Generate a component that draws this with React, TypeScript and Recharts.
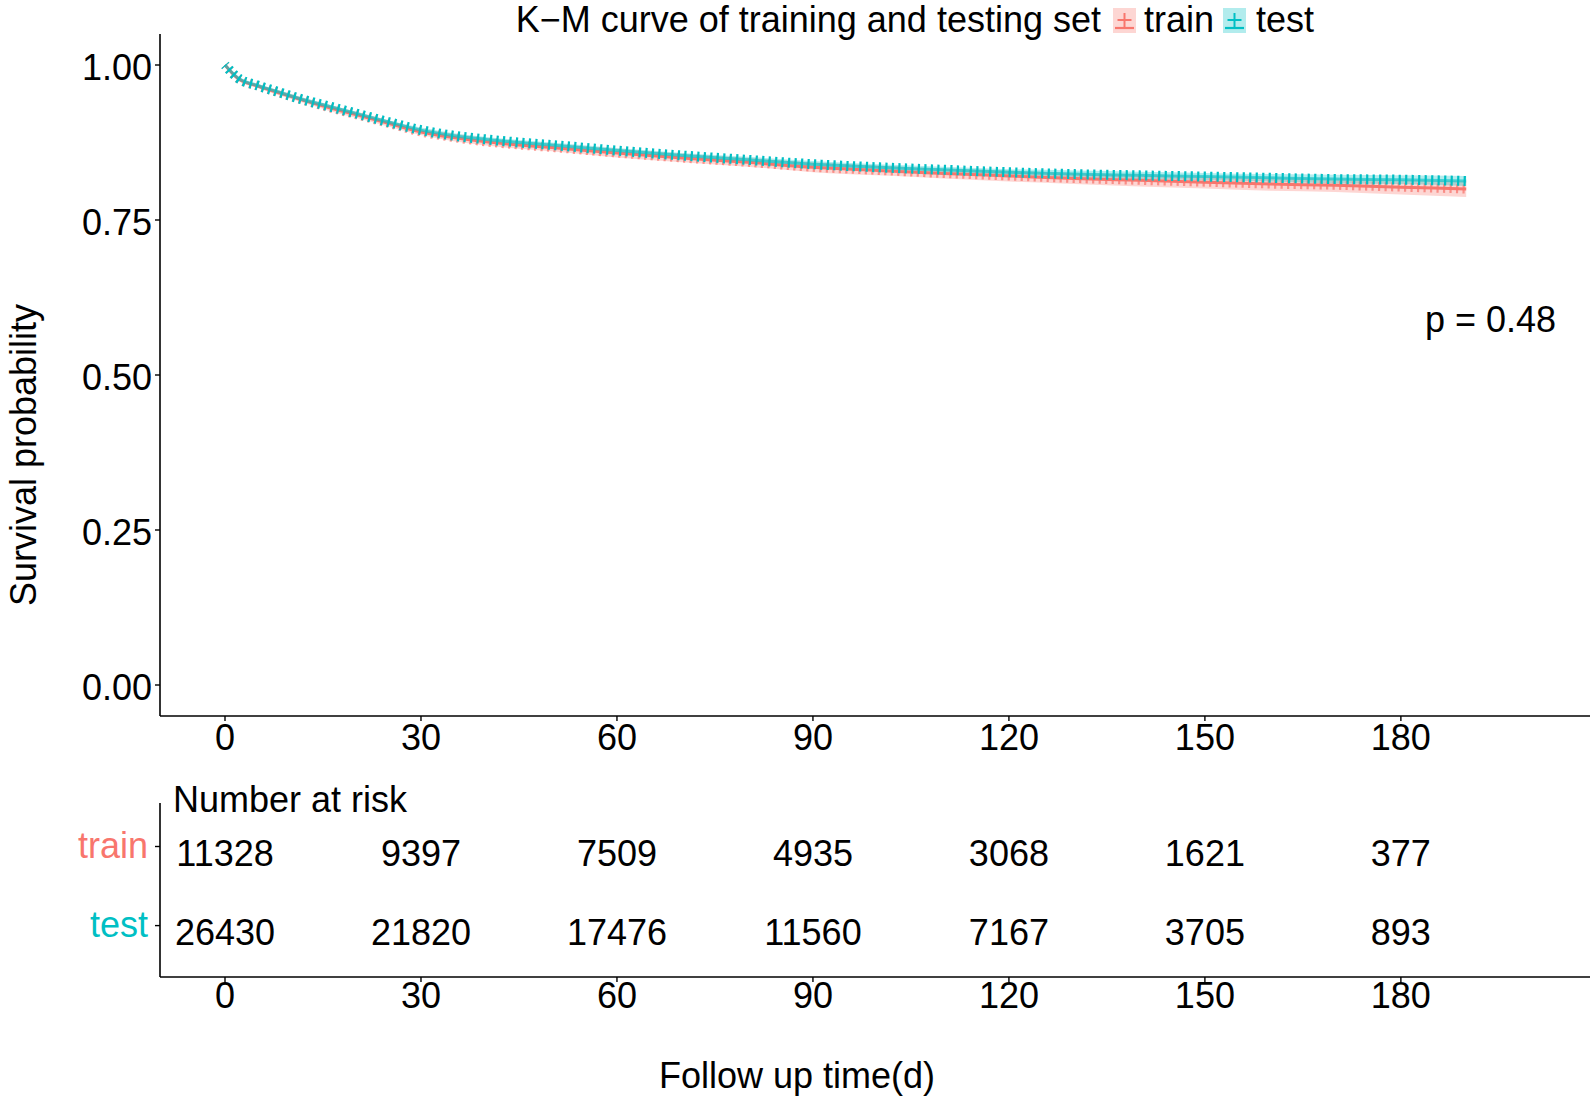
import React from "react";
import { ComposedChart, ScatterChart, Line, Area, Scatter, XAxis, YAxis } from "recharts";

const days = [0, 2, 5, 8, 12, 16, 20, 25, 30, 35, 40, 45, 50, 60, 70, 80, 90, 100, 110, 120, 130, 140, 150, 160, 170, 180, 190];
const testSurv = [1.0, 0.979, 0.967, 0.957, 0.944, 0.933, 0.922, 0.908, 0.895, 0.886, 0.88, 0.875, 0.871, 0.862, 0.854, 0.847, 0.84, 0.835, 0.831, 0.827, 0.824, 0.822, 0.82, 0.818, 0.816, 0.815, 0.813];
const trainSurv = [1.0, 0.978, 0.966, 0.956, 0.943, 0.931, 0.92, 0.906, 0.892, 0.883, 0.876, 0.871, 0.867, 0.858, 0.85, 0.843, 0.835, 0.83, 0.825, 0.821, 0.817, 0.814, 0.811, 0.808, 0.806, 0.803, 0.8];
const testHalfCI = [0, 0.002, 0.002, 0.003, 0.003, 0.003, 0.003, 0.003, 0.004, 0.004, 0.004, 0.004, 0.004, 0.004, 0.004, 0.005, 0.005, 0.005, 0.005, 0.005, 0.006, 0.006, 0.006, 0.006, 0.007, 0.007, 0.008];
const trainHalfCI = [0, 0.003, 0.003, 0.004, 0.004, 0.005, 0.005, 0.005, 0.005, 0.006, 0.006, 0.006, 0.006, 0.007, 0.007, 0.007, 0.008, 0.008, 0.008, 0.009, 0.009, 0.01, 0.01, 0.011, 0.011, 0.012, 0.013];

const xTicks = [0, 30, 60, 90, 120, 150, 180];
const yTicks = [0, 0.25, 0.5, 0.75, 1];

const riskDays = [0, 30, 60, 90, 120, 150, 180];
const trainRisk = [11328, 9397, 7509, 4935, 3068, 1621, 377];
const testRisk = [26430, 21820, 17476, 11560, 7167, 3705, 893];

const RED = "#F8766D";
const TEAL = "#00BFC4";
const FONT = "'Liberation Sans', Arial, Helvetica, sans-serif";
const FS = 36;
const X_DOMAIN = [-9.95, 208.95];

const curveRows = days.map((t, i) => ({
  t,
  train: trainSurv[i],
  test: testSurv[i],
  trainBand: [trainSurv[i] - trainHalfCI[i], trainSurv[i] + trainHalfCI[i]],
  testBand: [testSurv[i] - testHalfCI[i], testSurv[i] + testHalfCI[i]],
}));

const trainRows = riskDays.map((t, i) => ({ t, row: 2, n: trainRisk[i] }));
const testRows = riskDays.map((t, i) => ({ t, row: 1, n: testRisk[i] }));

const axisLine = { stroke: "#000", strokeWidth: 1.6 };
const tickLine = { stroke: "#000", strokeWidth: 1.4 };

const XTick = (props: any) => (
  <text x={props.x} y={props.y + 29} textAnchor="middle" fontSize={FS} fontFamily={FONT} fill="#000">
    {props.payload.value}
  </text>
);

const TableXTick = (props: any) => (
  <text x={props.x} y={props.y + 25.5} textAnchor="middle" fontSize={FS} fontFamily={FONT} fill="#000">
    {props.payload.value}
  </text>
);

const YTick = (props: any) => (
  <text x={props.x} y={props.y + 14.5} textAnchor="end" fontSize={FS} fontFamily={FONT} fill="#000">
    {Number(props.payload.value).toFixed(2)}
  </text>
);

const RowTick = (props: any) => {
  const isTrain = props.payload.value === 2;
  return (
    <text x={props.x} y={props.y + 11} textAnchor="end" fontSize={FS} fontFamily={FONT} fill={isTrain ? RED : TEAL}>
      {isTrain ? "train" : "test"}
    </text>
  );
};

const RiskText = (props: any) => (
  <text x={props.cx} y={props.cy + 19} textAnchor="middle" fontSize={FS} fontFamily={FONT} fill="#000">
    {props.payload.n}
  </text>
);

const LegendKey = ({ x, color }: { x: number; color: string }) => (
  <g>
    <rect x={x} y={8} width={23} height={25} fill={color} fillOpacity={0.3} />
    <line x1={x + 2} x2={x + 21} y1={28} y2={28} stroke={color} strokeWidth={2.2} />
    <line x1={x + 4.5} x2={x + 18.5} y1={20} y2={20} stroke={color} strokeWidth={2} />
    <line x1={x + 11.5} x2={x + 11.5} y1={13} y2={27} stroke={color} strokeWidth={2} />
  </g>
);

export default function App() {
  return (
    <div style={{ position: "absolute", left: 0, top: 0, width: 1595, height: 1100, background: "#fff" }}>
      <div style={{ position: "absolute", left: 0, top: 0 }}>
        <ComposedChart width={1595} height={760} data={curveRows} margin={{ top: 34, right: 5, bottom: 0, left: 0 }}>
          <XAxis
            dataKey="t"
            type="number"
            domain={X_DOMAIN}
            ticks={xTicks}
            allowDataOverflow
            height={44}
            tickSize={5}
            tickMargin={0}
            axisLine={axisLine}
            tickLine={tickLine}
            tick={<XTick />}
          />
          <YAxis
            type="number"
            domain={[-0.05, 1.05]}
            ticks={yTicks}
            allowDataOverflow
            width={160}
            tickSize={5}
            tickMargin={3}
            axisLine={axisLine}
            tickLine={tickLine}
            tick={<YTick />}
          />
          <Area type="monotone" dataKey="trainBand" stroke="none" fill={RED} fillOpacity={0.3} isAnimationActive={false} />
          <Area type="monotone" dataKey="testBand" stroke="none" fill={TEAL} fillOpacity={0.3} isAnimationActive={false} />
          <Line type="monotone" dataKey="train" stroke={RED} strokeWidth={3} dot={false} isAnimationActive={false} />
          <Line type="monotone" dataKey="train" stroke={RED} strokeOpacity={0.75} strokeWidth={9} strokeDasharray="2.2 4.3" strokeDashoffset={1.1} dot={false} isAnimationActive={false} />
          <Line type="monotone" dataKey="test" stroke={TEAL} strokeWidth={3} strokeOpacity={0.6} dot={false} isAnimationActive={false} />
          <Line type="monotone" dataKey="test" stroke={TEAL} strokeWidth={10} strokeDasharray="2.2 4.3" strokeDashoffset={1.1} dot={false} isAnimationActive={false} />
        </ComposedChart>
      </div>
      <div style={{ position: "absolute", left: 0, top: 760 }}>
        <ScatterChart width={1595} height={257} margin={{ top: 43, right: 5, bottom: 0, left: 0 }}>
          <XAxis
            dataKey="t"
            type="number"
            domain={X_DOMAIN}
            ticks={xTicks}
            allowDataOverflow
            height={40}
            tickSize={5}
            tickMargin={0}
            axisLine={axisLine}
            tickLine={tickLine}
            tick={<TableXTick />}
          />
          <YAxis
            dataKey="row"
            type="number"
            domain={[0.35, 2.55]}
            ticks={[1, 2]}
            allowDataOverflow
            width={160}
            tickSize={5}
            tickMargin={7}
            axisLine={axisLine}
            tickLine={tickLine}
            tick={<RowTick />}
          />
          <Scatter data={trainRows} shape={<RiskText />} isAnimationActive={false} />
          <Scatter data={testRows} shape={<RiskText />} isAnimationActive={false} />
        </ScatterChart>
      </div>
      <svg width={1595} height={1100} style={{ position: "absolute", left: 0, top: 0, pointerEvents: "none" }} fontFamily={FONT}>
        <text x={1101} y={32} textAnchor="end" fontSize={FS} fill="#000">K−M curve of training and testing set</text>
        <LegendKey x={1113} color={RED} />
        <text x={1144} y={32} fontSize={FS} fill="#000">train</text>
        <LegendKey x={1223} color={TEAL} />
        <text x={1256} y={32} fontSize={FS} fill="#000">test</text>
        <text x={1425} y={332} fontSize={FS} fill="#000">p = 0.48</text>
        <text transform="rotate(-90)" x={-455} y={36} textAnchor="middle" fontSize={FS} fill="#000">Survival probability</text>
        <text x={173} y={812} fontSize={FS} fill="#000">Number at risk</text>
        <text x={797} y={1088} textAnchor="middle" fontSize={FS} fill="#000">Follow up time(d)</text>
      </svg>
    </div>
  );
}
